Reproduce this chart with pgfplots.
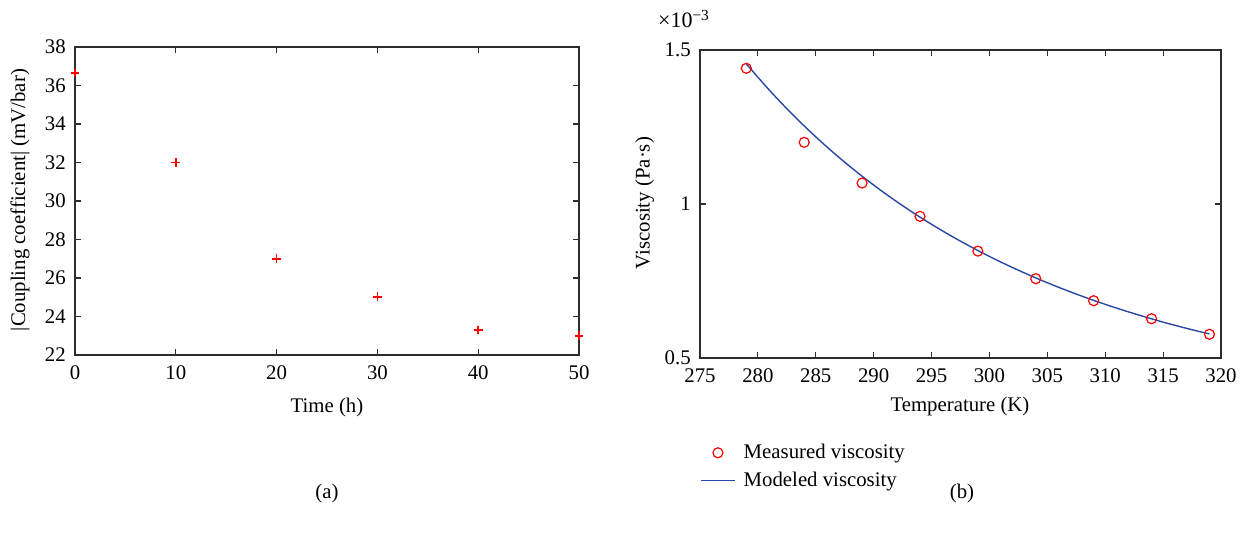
\documentclass[border=0pt]{standalone}
\usepackage{pgfplots}
\pgfplotsset{compat=1.18}
\usepackage{fontspec}
\setmainfont{Liberation Serif}
\definecolor{mblue}{RGB}{40,72,165}
\definecolor{axgray}{RGB}{45,45,45}
\definecolor{mred}{RGB}{255,0,0}
\newcommand{\fs}{\fontsize{10.4}{12.5}\selectfont}
\pgfplotsset{
  myaxis/.style={
    scale only axis,
    axis line style={axgray, line width=0.7pt},
    every tick/.style={axgray, line width=0.6pt},
    major tick length=3pt,
    tick align=inside,
    scaled ticks=false,
    /pgf/number format/assume math mode=true,
    tick label style={font=\fs},
    label style={font=\fs},
    yticklabel style={xshift=-1pt},
    xticklabel style={yshift=-1.5pt},
  }
}
\begin{document}
\fs
\begin{tikzpicture}
\useasboundingbox (0,0) rectangle (622pt,268.5pt);
% Left panel
\begin{axis}[myaxis,
  at={(37.5pt,91pt)}, anchor=south west,
  width=252pt, height=154pt,
  xmin=0, xmax=50, ymin=22, ymax=38,
  xtick={0,10,20,30,40,50}, ytick={22,24,...,38},
  xlabel={Time (h)},
  ylabel={|Coupling coefficient| (mV/bar)},
  xlabel style={at={(axis description cs:0.5,-0.169)}, anchor=center},
  ylabel style={at={(axis description cs:-0.109,0.503)}, anchor=center},
]
\addplot[only marks, color=mred, mark=+, mark size=2.2pt, mark options={solid, draw=mred, line width=0.8pt}] coordinates {
(0,36.65) (10,32.0) (20,27.0) (30,25.02) (40,23.3) (50,23.0)
};
\end{axis}
% Right panel
\begin{axis}[myaxis,
  at={(350pt,89.5pt)}, anchor=south west,
  width=260.5pt, height=154pt,
  xmin=275, xmax=320, ymin=0.5, ymax=1.5,
  xtick={275,280,...,320}, ytick={0.5,1,1.5},
  yticklabels={0.5,1,1.5},
  xlabel={Temperature (K)},
  ylabel={Viscosity (Pa·s)},
  xlabel style={at={(axis description cs:0.499,-0.159)}, anchor=center},
  ylabel style={at={(axis description cs:-0.106,0.503)}, anchor=center},
  legend style={at={(axis description cs:-0.012,-0.252)}, anchor=north west, draw=none, fill=none, font=\fs, row sep=1pt, column sep=2pt},
  legend cell align=left,
]
\addplot[only marks, color=mred, mark=o, mark size=2.5pt, mark options={draw=mred, line width=0.6pt}] coordinates {
(279,1.4406) (284,1.2003) (289,1.068) (294,0.960) (299,0.847) (304,0.7575) (309,0.686) (314,0.6276) (319,0.577)
};
\addlegendentry{Measured viscosity}
\addplot[mblue, line width=0.7pt, smooth, no marks] coordinates {
(279,1.4550) (281,1.3692) (283,1.2903) (285,1.2180) (287,1.1514) (289,1.0902) (291,1.0338) (293,0.9819) (295,0.9340) (297,0.8898) (299,0.8490) (301,0.8113) (303,0.7765) (305,0.7443) (307,0.7146) (309,0.6871) (311,0.6618) (313,0.6383) (315,0.6165) (317,0.5965) (319,0.5780)
};
\addlegendentry{Modeled viscosity}
\end{axis}
\node[anchor=center, font=\fontsize{11}{13}\selectfont] at (342pt,259pt) {×10\textsuperscript{−3}};
\node[font=\fs] at (163.5pt,22pt) {(a)};
\node[font=\fs] at (481pt,22pt) {(b)};
\end{tikzpicture}
\end{document}
